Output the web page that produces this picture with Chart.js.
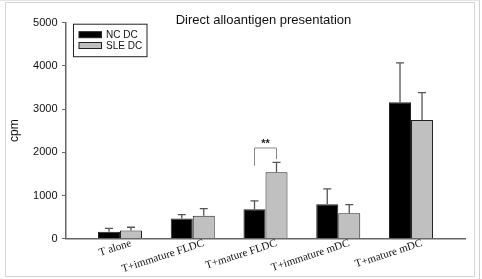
<!DOCTYPE html>
<html>
<head>
<meta charset="utf-8">
<script src="https://cdn.jsdelivr.net/npm/chart.js@4/dist/chart.umd.min.js"></script>
<style>
    html, body { margin: 0; padding: 0; background: #fff; }
    #wrap { position: relative; width: 482px; height: 279px; }
    .frame { position: absolute; left: 5px; top: 2px; width: 468px; height: 273px; border: 1px solid #d6d6d6; }
    .outer { position: absolute; left: 0; top: 0; width: 479px; height: 278px; border-top: 1px solid #e4e4e4; border-right: 1px solid #d0d0d0; }
    canvas { position: absolute; left: 0; top: 0; }
</style>
</head>
<body>
<div id="wrap">
    <div class="outer"></div>
    <div class="frame"></div>
    <canvas id="dcChart" width="482" height="279"></canvas>
</div>
<script>
// Data
const categories = ['T alone', 'T+immature FLDC', 'T+mature FLDC', 'T+immature mDC', 'T+mature mDC'];
const seriesNames = ['NC DC', 'SLE DC'];
const ncValues = [160, 470, 680, 800, 3160];
const ncErrors = [80, 85, 195, 355, 910];
const sleValues = [190, 530, 1540, 590, 2750];
const sleErrors = [75, 165, 225, 200, 630];
const yTicks = [0, 1000, 2000, 3000, 4000, 5000];

// Significance bracket on "T+mature FLDC"
const sigGroup = 2;
const sigLegs = [1690, 1840];
const sigTop = 2100;
const sigLabel = '**';

const errors = [ncErrors, sleErrors];

function toPoints(values) {
    return values.map((v, i) => ({ x: i, y: v }));
}

// error bars (upper only)
const errorBarPlugin = {
    id: 'errorBars',
    afterDatasetsDraw(chart) {
        const ctx = chart.ctx;
        const yScale = chart.scales.y;
        ctx.save();
        ctx.strokeStyle = '#555';
        ctx.lineWidth = 1.3;
        chart.data.datasets.forEach((ds, di) => {
            const meta = chart.getDatasetMeta(di);
            meta.data.forEach((bar, i) => {
                const top = yScale.getPixelForValue(ds.data[i].y + errors[di][i]);
                ctx.beginPath();
                ctx.moveTo(bar.x, bar.y);
                ctx.lineTo(bar.x, top);
                ctx.moveTo(bar.x - 4, top);
                ctx.lineTo(bar.x + 4, top);
                ctx.stroke();
            });
        });
        ctx.restore();
    }
};

// ** bracket
const bracketPlugin = {
    id: 'bracket',
    afterDatasetsDraw(chart) {
        const ctx = chart.ctx;
        const yScale = chart.scales.y;
        const left = chart.getDatasetMeta(0).data[sigGroup].x;
        const right = chart.getDatasetMeta(1).data[sigGroup].x;
        const yTop = yScale.getPixelForValue(sigTop);
        ctx.save();
        ctx.strokeStyle = '#888';
        ctx.lineWidth = 1;
        ctx.beginPath();
        ctx.moveTo(left, yScale.getPixelForValue(sigLegs[0]));
        ctx.lineTo(left, yTop);
        ctx.lineTo(right, yTop);
        ctx.lineTo(right, yScale.getPixelForValue(sigLegs[1]));
        ctx.stroke();
        ctx.fillStyle = '#222';
        ctx.font = 'bold 11px "Liberation Sans", Arial, sans-serif';
        ctx.textAlign = 'center';
        ctx.textBaseline = 'middle';
        ctx.fillText(sigLabel, (left + right) / 2, yTop - 4);
        ctx.restore();
    }
};

// title + boxed legend inside plot
const decorPlugin = {
    id: 'decor',
    afterDraw(chart) {
        const ctx = chart.ctx;
        const area = chart.chartArea;
        ctx.save();
        ctx.fillStyle = '#111';
        ctx.font = '13px "Liberation Sans", Arial, sans-serif';
        ctx.textAlign = 'center';
        ctx.textBaseline = 'middle';
        ctx.fillText('Direct alloantigen presentation', (area.left + area.right) / 2 - 2, area.top - 2);

        const bx = area.left + 7.5, by = area.top + 1.5, bw = 73.5, bh = 32.5;
        ctx.strokeStyle = '#222';
        ctx.lineWidth = 1;
        ctx.fillStyle = '#fff';
        ctx.fillRect(bx, by, bw, bh);
        ctx.strokeRect(bx, by, bw, bh);
        ctx.font = '10px "Liberation Sans", Arial, sans-serif';
        ctx.textAlign = 'left';
        chart.data.datasets.forEach((ds, i) => {
            const cy = by + 10.5 + i * 10.8;
            ctx.fillStyle = ds.backgroundColor;
            ctx.fillRect(bx + 5.5, cy - 3, 22.5, 6);
            ctx.strokeStyle = '#222';
            ctx.strokeRect(bx + 5.5, cy - 3, 22.5, 6);
            ctx.fillStyle = '#111';
            ctx.fillText(ds.label, bx + 32.5, cy + 0.5);
        });
        ctx.restore();
    }
};

new Chart(document.getElementById('dcChart'), {
    type: 'bar',
    data: {
        datasets: [{
            label: seriesNames[0],
            data: toPoints(ncValues),
            backgroundColor: '#000000',
            borderColor: '#222',
            borderWidth: 1,
            categoryPercentage: 0.605,
            barPercentage: 1
        }, {
            label: seriesNames[1],
            data: toPoints(sleValues),
            backgroundColor: '#c0c0c0',
            borderColor: '#222',
            borderWidth: 1,
            categoryPercentage: 0.605,
            barPercentage: 1
        }]
    },
    options: {
        responsive: false,
        animation: false,
        layout: {
            padding: { left: 0, top: 22.7, right: 17, bottom: 0 }
        },
        plugins: {
            legend: { display: false },
            title: { display: false },
            tooltip: { enabled: false }
        },
        scales: {
            x: {
                type: 'linear',
                offset: false,
                min: -0.742,
                max: 4.742,
                afterFit: s => { s.height = 40.3; },
                grid: { display: false, drawTicks: false, offset: false },
                border: { display: true, color: '#666', width: 1.5 },
                ticks: {
                    stepSize: 1,
                    includeBounds: false,
                    autoSkip: false,
                    minRotation: 18,
                    maxRotation: 18,
                    labelOffset: 11,
                    padding: -2,
                    color: '#111',
                    font: { family: '"Liberation Serif", "Times New Roman", serif', size: 11 },
                    callback: v => categories[v] ?? ''
                }
            },
            y: {
                min: yTicks[0],
                max: yTicks[yTicks.length - 1],
                afterFit: s => { s.width = 66; },
                afterBuildTicks: s => { s.ticks = yTicks.map(v => ({ value: v })); },
                grid: { drawOnChartArea: false, drawTicks: true, tickLength: 4, color: '#666' },
                border: { display: true, color: '#666', width: 1.5 },
                ticks: {
                    padding: 4.5,
                    color: '#111',
                    font: { family: '"Liberation Sans", Arial, sans-serif', size: 11 },
                    callback: v => String(v)
                },
                title: {
                    display: true,
                    text: 'cpm',
                    color: '#111',
                    padding: { top: 7, bottom: 0 },
                    font: { family: '"Liberation Sans", Arial, sans-serif', size: 12 }
                }
            }
        }
    },
    plugins: [errorBarPlugin, bracketPlugin, decorPlugin]
});
</script>
</body>
</html>
